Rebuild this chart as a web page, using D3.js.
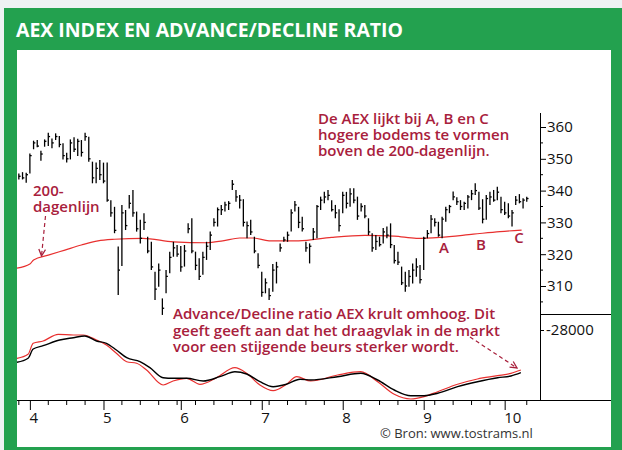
<!DOCTYPE html>
<html>
<head>
<meta charset="utf-8" />
<style>
  body { margin: 0; background: #eef2f4; }
  svg { display: block; }
  .axis path, .axis line { stroke: #000; }
  .axis text { font-family: 'Open Sans', sans-serif; font-size: 15px; fill: #111; }
  .note { font-family: 'Open Sans', sans-serif; font-weight: 600; font-size: 15px; fill: #a8203c; }
</style>
</head>
<body>
<div id="chart"></div>
<script src="https://d3js.org/d3.v7.min.js"></script>
<script>

//// data: AEX daily bars (end of March .. October), trading day index 0..138 ////
var highs = [345.4,345.8,345.6,351.7,355.7,355.9,352.5,356.1,358.2,356.4,358.0,357.2,354.9,351.9,356.1,356.8,356.3,355.9,358.2,356.9,
  349.1,348.8,349.6,348.8,348.8,337.0,334.9,322.4,335.5,333.9,338.6,340.2,333.4,330.8,332.9,325.5,323.9,314.5,317.1,306.1,
  315.0,320.8,323.9,322.9,322.6,322.9,329.7,331.3,320.8,318.7,320.8,323.9,327.1,331.3,334.7,335.5,336.5,336.7,343.3,340.2,
  338.6,337.3,330.3,330.8,325.5,320.3,314.5,312.4,309.3,316.9,317.6,323.4,325.5,327.1,334.1,336.7,334.9,331.8,323.9,323.4,
  328.2,335.5,338.1,339.6,340.2,337.0,335.5,334.1,339.6,339.6,340.7,340.7,338.1,336.0,335.5,331.3,326.6,326.0,325.5,328.2,
  328.7,329.7,322.9,320.8,316.1,314.5,315.0,317.1,318.7,316.6,325.5,327.6,332.3,331.3,330.2,331.8,334.9,335.5,339.7,337.9,
  337.0,336.5,338.6,340.2,342.3,339.6,337.3,338.6,339.6,340.2,341.2,338.1,336.5,336.0,333.9,338.3,338.9,337.6,338.1];
var lows = [343.5,343.5,342.5,345.4,353.0,353.6,349.4,353.8,354.0,353.3,355.9,353.6,349.8,348.8,349.8,352.1,350.9,350.7,355.7,349.1,
  342.3,342.3,343.3,342.3,336.5,331.8,326.6,307.2,316.3,327.6,334.4,331.8,327.1,323.4,327.6,320.3,315.0,305.6,309.8,300.9,
  307.7,314.0,319.2,319.2,314.5,316.1,326.6,320.3,315.0,311.9,313.5,318.2,321.3,328.7,328.7,332.3,333.4,333.9,340.2,336.5,
  334.4,328.7,325.0,326.0,320.3,315.6,306.6,307.7,305.6,308.2,310.8,320.8,323.9,323.9,327.1,333.4,328.2,327.1,320.8,317.1,
  324.5,325.0,333.9,336.0,337.0,333.4,331.3,327.1,332.9,334.4,334.9,336.0,330.8,333.4,331.3,326.0,320.8,321.3,322.4,323.4,
  325.0,321.9,317.1,316.6,310.3,308.2,309.8,310.8,312.9,310.8,315.0,325.0,326.6,328.7,325.5,325.0,330.2,332.9,337.0,335.5,
  333.9,333.9,334.4,337.0,338.6,333.9,329.7,330.8,335.5,336.5,337.0,332.9,332.3,331.3,328.7,335.5,336.0,334.4,336.5];
var closes = [344.5,344.0,345.0,351.0,355.0,354.0,351.5,355.5,357.0,355.0,357.0,354.5,351.0,350.0,355.0,353.0,355.5,352.0,357.0,350.0,
  344.0,347.0,345.0,343.0,337.0,333.0,327.5,315.0,333.0,329.0,336.0,333.0,328.0,325.0,330.0,321.0,316.0,309.0,315.0,303.0,
  313.0,319.0,322.0,320.0,316.0,321.0,328.0,321.0,316.5,313.0,319.0,322.5,326.0,330.0,334.0,334.0,335.5,336.0,342.0,338.0,
  337.0,330.0,329.0,327.0,321.0,316.5,308.0,311.0,307.0,315.0,316.0,322.0,324.5,326.0,333.0,335.5,330.0,328.0,322.0,322.5,
  327.0,335.0,337.0,338.0,338.5,334.0,333.0,329.0,338.5,336.0,339.0,337.0,332.0,335.0,332.0,327.0,322.0,324.0,323.0,327.0,
  326.0,323.0,318.0,317.5,311.0,310.0,313.0,315.0,316.0,312.0,325.0,326.5,331.0,330.0,326.0,331.0,334.0,335.0,338.0,336.5,
  335.0,336.0,338.0,339.0,340.0,334.5,331.0,337.5,338.0,337.0,339.5,334.0,333.0,332.0,333.0,337.0,336.5,337.0,337.5];

// 200-dagenlijn, read at these day indices
var maIdx = [-0.5, 3, 4, 8, 12.5, 17, 21.5, 26, 33.7, 42, 51, 55.4, 60, 63.7, 68, 76, 85, 94, 102, 108, 114.4, 123.5, 130.7, 136.6];
var maVal = [315.6, 316.9, 318.2, 319.7, 321.3, 322.9, 324.2, 324.7, 325.0, 323.9, 323.6, 324.2, 325.1, 325.1, 324.2, 324.2, 325.3, 325.9, 325.7, 325.0, 325.3, 326.3, 327.1, 327.6];

// advance/decline ratio (black) and its red companion line
var adIdx = [-0.5, 2.5, 3.9, 6.6, 11.1, 14.8, 17.9, 21.1, 23.8, 26.5, 29.3, 32.9, 35.6, 39.2, 41.9, 45.6, 50.1, 54.6, 58.7, 61.9,
  65.5, 69.1, 72.7, 76.4, 79.3, 86.6, 92.9, 97.5, 102, 106.5, 110.1, 113.8, 119.2, 124.6, 130.1, 133.7, 136.4];
var adBlack = [-31230, -30830, -29900, -29570, -29000, -28770, -28600, -29100, -29330, -30000, -30770, -31170, -31770, -32770, -32830, -32830, -33100, -32670, -32170, -32400,
  -33170, -33670, -33430, -32930, -33000, -32670, -32330, -33000, -34000, -34570, -34570, -34330, -33670, -33170, -32770, -32600, -32270];
var redIdx = [-0.5, 2.5, 3.9, 6.6, 10.7, 14.8, 17.5, 21.1, 23.8, 26.5, 29.3, 32, 34.7, 39.2, 41.9, 45.6, 49.2, 53.7, 58.7, 61.9,
  65.5, 69.1, 72.7, 75.5, 79.3, 86.6, 92.9, 97.5, 102, 106.5, 110.1, 113.8, 119.2, 124.6, 130.1, 133.7, 136.4];
var adRed = [-30830, -30430, -29330, -29100, -28430, -28500, -28500, -29000, -29500, -30330, -31170, -31330, -32000, -33500, -33100, -32830, -33430, -32770, -31770, -32330,
  -33500, -34070, -33430, -32670, -33100, -32500, -32170, -33170, -34430, -34900, -34670, -34170, -33430, -32900, -32570, -32330, -32000];

// axis ticks
var monthIdx = [3, 23, 44, 66, 88, 110, 132];
var monthLabels = ['4', '5', '6', '7', '8', '9', '10'];
var weekIdx = [0, 8, 13, 18, 28, 33, 38, 43, 48, 53, 58, 63, 68, 73, 78, 83, 93, 98, 103, 108, 113, 118, 123, 128, 138];
var priceTicks = [310, 320, 330, 340, 350, 360];
var priceMinor = [305, 315, 325, 335, 345, 355];
var adTicks = [-28000];

var W = 622, H = 450;
var green = '#23a14f', red = '#e8302f', noteCol = '#a8203c';

var svg = d3.select('#chart').append('svg')
    .attr('width', W)
    .attr('height', H);

// frame
svg.append('rect').attr('x', 4).attr('y', 8).attr('width', W - 4).attr('height', H - 8).attr('fill', green);
svg.append('rect').attr('x', 17).attr('y', 50).attr('width', 594).attr('height', 397).attr('fill', '#fff');
svg.append('text')
    .attr('x', 16).attr('y', 37)
    .attr('textLength', 387).attr('lengthAdjust', 'spacingAndGlyphs')
    .style('font-family', "'Open Sans', sans-serif").style('font-weight', 700).style('font-size', '20px')
    .attr('fill', '#fff')
    .text('AEX INDEX EN ADVANCE/DECLINE RATIO');

// scales
var x = d3.scaleLinear().domain([-0.5, 141.6]).range([17, 540]);
var y = d3.scaleLinear().domain([300, 360]).range([317.8, 127]);
var yAD = d3.scaleLinear().domain([-35000, -28000]).range([400, 330]);

// 200-day line
var maLine = d3.line().curve(d3.curveMonotoneX)
    .x(function(d) { return x(d[0]); })
    .y(function(d) { return y(d[1]); });
svg.append('path')
    .datum(d3.zip(maIdx, maVal))
    .attr('d', maLine)
    .attr('fill', 'none').attr('stroke', red).attr('stroke-width', 1.2);

// price bars
var bars = svg.append('g').attr('stroke', '#000').attr('stroke-width', 1.3);
highs.forEach(function(h, i) {
  bars.append('line')
      .attr('x1', x(i)).attr('x2', x(i))
      .attr('y1', y(h)).attr('y2', y(lows[i]));
  bars.append('line')
      .attr('x1', x(i)).attr('x2', x(i) + 1.8)
      .attr('y1', y(closes[i])).attr('y2', y(closes[i]));
});

// A/D lines
var adLine = d3.line().curve(d3.curveMonotoneX)
    .x(function(d) { return x(d[0]); })
    .y(function(d) { return yAD(d[1]); });
svg.append('path')
    .datum(d3.zip(redIdx, adRed))
    .attr('d', adLine)
    .attr('fill', 'none').attr('stroke', red).attr('stroke-width', 1.2);
svg.append('path')
    .datum(d3.zip(adIdx, adBlack))
    .attr('d', adLine)
    .attr('fill', 'none').attr('stroke', '#000').attr('stroke-width', 1.4);

// right axis (price)
var yAxis = svg.append('g').attr('class', 'axis')
    .attr('transform', 'translate(540,0)')
    .call(d3.axisRight(y).tickValues(priceTicks).tickSize(6).tickPadding(1).tickSizeOuter(0));
yAxis.select('.domain').remove();
svg.append('g').attr('stroke', '#000')
  .selectAll('line').data(priceMinor).enter().append('line')
    .attr('x1', 540).attr('x2', 543)
    .attr('y1', function(d) { return y(d); }).attr('y2', function(d) { return y(d); });
svg.append('line').attr('x1', 540.5).attr('x2', 540.5).attr('y1', 113).attr('y2', 400).attr('stroke', '#000');
svg.append('line').attr('x1', 540).attr('x2', 611).attr('y1', 314.5).attr('y2', 314.5).attr('stroke', '#000');

// right axis (A/D)
var adAxis = svg.append('g').attr('class', 'axis')
    .attr('transform', 'translate(540,0)')
    .call(d3.axisRight(yAD).tickValues(adTicks).tickSize(4).tickPadding(2)
      .tickFormat(function(d) { return '-' + Math.abs(d); }));
adAxis.select('.domain').remove();

// bottom axis
svg.append('line').attr('x1', 17).attr('x2', 611).attr('y1', 400.5).attr('y2', 400.5).attr('stroke', '#000');
svg.append('g').attr('stroke', '#000')
  .selectAll('line').data(weekIdx).enter().append('line')
    .attr('x1', function(d) { return x(d); }).attr('x2', function(d) { return x(d); })
    .attr('y1', 400).attr('y2', 405);
var xAxis = svg.append('g').attr('class', 'axis')
    .attr('transform', 'translate(0,400)')
    .call(d3.axisBottom(x).tickValues(monthIdx).tickSize(10).tickSizeOuter(0)
      .tickFormat(function(d, i) { return monthLabels[i]; }));
xAxis.select('.domain').remove();
xAxis.selectAll('text').attr('text-anchor', 'start').attr('x', -1).attr('y', 12);

// annotations
var defs = svg.append('defs');
defs.append('marker').attr('id', 'ah')
    .attr('viewBox', '0 0 10 10').attr('refX', 9).attr('refY', 5)
    .attr('markerWidth', 7).attr('markerHeight', 7).attr('orient', 'auto')
  .append('path').attr('d', 'M1,1 L9,5 L1,9')
    .attr('fill', 'none').attr('stroke', noteCol).attr('stroke-width', 1.5);

function note(lines, x0, y0, dy) {
  var t = svg.append('text').attr('class', 'note');
  lines.forEach(function(s, i) {
    t.append('tspan').attr('x', x0).attr('y', y0 + i * dy).text(s);
  });
}
note(['De AEX lijkt bij A, B en C', 'hogere bodems te vormen', 'boven de 200-dagenlijn.'], 318, 124, 16);
note(['200-', 'dagenlijn'], 33, 196, 16);
note(['Advance/Decline ratio AEX krult omhoog. Dit', 'geeft geeft aan dat het draagvlak in de markt', 'voor een stijgende beurs sterker wordt.'], 173, 319, 16.5);

svg.append('line').attr('x1', 45.5).attr('y1', 216).attr('x2', 41.5).attr('y2', 256)
    .attr('stroke', noteCol).attr('stroke-width', 1.2).attr('stroke-dasharray', '4,3')
    .attr('marker-end', 'url(#ah)');
svg.append('line').attr('x1', 470).attr('y1', 337).attr('x2', 517).attr('y2', 368)
    .attr('stroke', noteCol).attr('stroke-width', 1.2).attr('stroke-dasharray', '4,3')
    .attr('marker-end', 'url(#ah)');

svg.selectAll('.abc').data([['A', 444, 253], ['B', 481, 250], ['C', 519, 243]]).enter()
  .append('text').attr('class', 'note')
    .attr('x', function(d) { return d[1]; }).attr('y', function(d) { return d[2]; })
    .attr('text-anchor', 'middle')
    .text(function(d) { return d[0]; });

svg.append('text')
    .attr('x', 380).attr('y', 438)
    .style('font-family', "'Open Sans', sans-serif").style('font-size', '13px')
    .attr('fill', '#333')
    .text('© Bron: www.tostrams.nl');

</script>
</body>
</html>
